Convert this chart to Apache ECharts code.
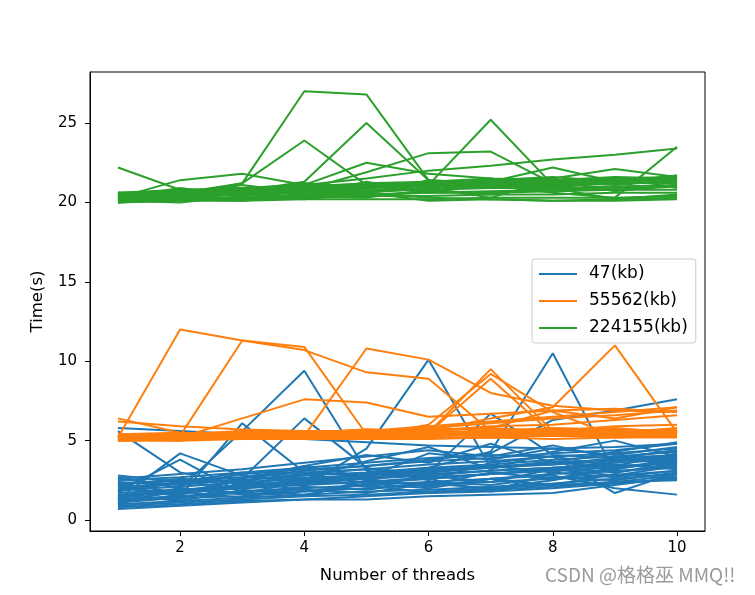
<!DOCTYPE html>
<html>
<head>
<meta charset="utf-8">
<script src="https://cdn.jsdelivr.net/npm/echarts@6/dist/echarts.min.js"></script>
<style>html,body{margin:0;padding:0;background:#fff}#c{width:755px;height:595px}</style>
</head>
<body>
<div id="c"></div>
<script>
const threads = [1,2,3,4,5,6,7,8,9,10];
const seriesNames = ['47(kb)', '55562(kb)', '224155(kb)'];
const xTicks = [2,4,6,8,10];
const yTicks = [0,5,10,15,20,25];

const blueRuns = [
[0.8,1.0,1.2,1.3,1.5,1.7,1.8,2.0,2.3,2.6],
[0.7,0.9,1.1,1.3,1.3,1.5,1.6,1.7,2.2,2.7],
[1.0,1.2,1.4,1.6,1.8,1.9,2.1,2.3,2.6,2.9],
[1.1,1.4,1.5,1.8,2.0,2.2,2.4,2.6,2.8,3.1],
[1.3,1.5,1.8,2.0,2.2,2.4,2.6,2.9,3.1,3.3],
[1.5,1.7,2.0,2.2,2.4,2.6,2.9,3.1,3.3,3.6],
[1.7,1.9,2.2,2.4,2.6,2.9,3.1,3.3,3.6,3.8],
[1.9,2.1,2.4,2.6,2.8,3.1,3.3,3.6,3.8,4.0],
[2.1,2.3,2.5,2.8,3.0,3.3,3.5,3.8,4.0,4.3],
[2.3,2.5,2.7,3.0,3.2,3.5,3.7,4.0,4.2,4.5],
[2.6,2.2,2.9,3.2,3.4,3.7,3.9,4.2,4.4,4.8],
[2.8,2.4,2.0,2.6,2.9,3.0,3.4,3.5,3.9,4.1],
[1.2,1.8,1.4,2.1,1.9,2.4,2.2,2.7,2.5,3.0],
[1.6,1.2,1.9,1.6,2.3,2.0,2.6,2.2,2.9,2.6],
[2.0,1.6,2.3,2.7,2.1,2.8,2.4,3.2,2.8,3.4],
[1.4,2.0,1.7,1.5,2.5,2.2,3.0,2.6,3.3,3.7],
[5.8,5.6,5.4,5.1,4.9,4.7,4.6,4.5,4.6,4.8],
[5.6,3.0,2.2,2.5,2.7,3.0,3.3,3.5,3.7,3.9],
[1.3,4.2,2.8,2.3,2.4,2.7,2.9,3.2,3.4,3.6],
[1.8,3.8,1.7,2.4,2.6,2.8,3.1,3.3,3.5,3.2],
[2.2,1.5,6.1,3.0,2.8,3.2,3.4,3.0,3.8,4.0],
[1.0,2.0,5.6,9.4,3.1,2.6,2.9,3.3,3.0,3.5],
[2.4,2.2,2.6,6.4,3.3,2.5,3.6,4.0,3.4,4.2],
[1.2,1.5,1.7,2.1,4.5,10.1,3.3,3.7,3.2,3.9],
[1.5,1.9,2.1,2.4,2.9,3.3,4.3,10.5,3.0,3.6],
[1.9,2.3,2.5,2.9,3.2,3.0,6.7,4.1,3.9,4.4],
[2.0,2.4,2.7,3.1,3.4,3.8,4.2,6.3,6.9,7.6],
[1.6,1.8,2.0,2.3,2.6,2.1,2.6,2.8,2.0,1.6],
[2.5,2.7,3.0,3.3,3.6,3.9,4.1,4.0,1.7,3.0],
[1.1,1.6,2.6,1.8,2.2,1.7,1.9,2.1,2.4,2.8],
[2.7,2.0,1.6,1.9,1.7,2.3,2.0,2.5,3.2,3.8],
[1.4,1.3,2.2,2.9,2.3,2.6,1.8,3.0,2.7,3.1],
[2.2,2.6,2.4,3.4,2.7,4.2,3.8,4.5,4.1,4.6],
[0.9,1.1,1.3,1.5,1.6,1.8,2.0,2.2,2.4,2.5],
[2.6,2.9,3.2,3.6,4.0,4.4,4.0,4.7,3.9,4.4],
[1.8,2.4,3.0,2.6,3.7,4.6,3.2,4.3,5.0,4.0],
[2.3,1.7,2.6,3.4,4.1,3.6,4.8,3.6,4.3,4.9]
];

const orangeRuns = [
[5.0,5.0,5.1,5.1,5.1,5.1,5.2,5.1,5.2,5.2],
[5.1,5.1,5.1,5.2,5.2,5.2,5.2,5.3,5.2,5.3],
[5.2,5.1,5.2,5.2,5.3,5.3,5.3,5.3,5.3,5.4],
[5.1,5.2,5.2,5.3,5.2,5.4,5.3,5.4,5.4,5.4],
[5.3,5.2,5.3,5.3,5.4,5.3,5.4,5.5,5.4,5.5],
[5.2,5.3,5.3,5.4,5.4,5.5,5.5,5.4,5.5,5.6],
[5.4,5.3,5.4,5.4,5.5,5.5,5.6,5.6,5.6,5.6],
[5.0,5.2,5.3,5.5,5.3,5.6,5.5,5.7,5.6,5.7],
[5.3,5.4,5.2,5.3,5.6,5.4,5.7,5.5,5.8,5.5],
[5.1,5.3,5.5,5.2,5.4,5.7,5.4,5.6,5.5,5.8],
[5.2,5.0,5.4,5.6,5.5,5.3,5.6,5.8,5.7,5.4],
[5.4,5.5,5.3,5.5,5.7,5.6,5.8,5.6,5.9,6.0],
[5.0,5.1,5.3,5.4,5.6,5.8,6.1,6.4,6.6,6.9],
[5.2,5.3,5.4,5.5,5.6,5.9,6.2,6.5,6.8,7.1],
[6.2,5.9,5.7,5.6,5.6,5.5,5.4,5.4,5.3,5.3],
[6.4,5.5,5.3,5.2,5.3,5.4,5.3,5.5,5.4,5.5],
[5.2,12.0,11.3,10.9,5.4,5.3,5.4,5.3,5.5,5.4],
[5.1,5.3,11.3,10.7,9.3,8.9,5.6,5.5,5.4,5.4],
[5.3,5.2,6.4,7.6,7.4,6.5,6.7,6.9,7.0,6.8],
[5.2,5.3,5.3,5.3,10.8,10.1,8.0,7.2,6.9,6.8],
[5.3,5.4,5.2,5.4,5.5,5.5,9.5,5.6,5.5,5.6],
[5.1,5.2,5.3,5.2,5.3,6.0,9.2,6.8,5.3,5.5],
[5.2,5.3,5.4,5.3,5.4,5.5,8.9,5.4,5.5,5.3],
[5.3,5.2,5.3,5.4,5.5,5.6,6.4,7.1,11.0,5.5],
[5.4,5.3,5.5,5.4,5.6,5.7,5.8,6.9,6.4,7.1],
[5.0,5.4,5.6,5.5,5.7,5.6,5.9,6.0,6.3,6.6]
];

const greenRuns = [
[20.0,20.1,20.1,20.2,20.2,20.2,20.3,20.3,20.3,20.4],
[20.1,20.2,20.2,20.3,20.4,20.4,20.5,20.5,20.6,20.6],
[20.2,20.3,20.3,20.4,20.5,20.6,20.6,20.7,20.8,20.8],
[20.2,20.4,20.5,20.6,20.7,20.8,20.9,20.9,21.0,21.1],
[20.3,20.5,20.6,20.7,20.8,20.9,21.0,21.1,21.2,21.3],
[20.4,20.6,20.7,20.8,20.9,21.0,21.1,21.2,21.3,21.4],
[20.5,20.6,20.8,20.9,21.0,21.1,21.2,21.3,21.4,21.5],
[20.6,20.8,20.9,21.0,21.1,21.2,21.3,21.4,21.5,21.6],
[20.0,20.3,20.2,20.5,20.4,20.7,20.6,20.9,20.8,21.0],
[20.1,20.0,20.4,20.2,20.6,20.3,20.2,20.1,20.2,20.5],
[20.3,20.2,20.1,20.4,20.3,20.8,20.5,21.0,21.2,21.7],
[20.5,20.3,20.6,20.3,21.0,21.2,20.9,21.1,21.5,21.3],
[20.4,20.7,20.5,21.2,20.9,21.3,21.5,21.0,21.2,21.6],
[20.2,20.5,21.1,20.6,21.2,21.0,21.4,21.6,21.3,21.7],
[20.6,20.4,20.3,20.7,20.6,21.4,21.1,20.9,20.2,20.3],
[20.6,20.2,20.9,20.4,21.3,20.6,21.5,20.8,21.6,20.9],
[20.3,20.9,20.4,21.2,20.6,20.9,20.3,21.4,20.7,21.1],
[22.2,20.8,20.4,20.3,20.5,20.6,20.7,20.8,20.9,21.0],
[20.3,21.4,21.8,21.1,21.0,21.2,21.3,21.1,21.4,21.5],
[20.2,20.6,21.2,27.0,26.8,21.4,21.2,21.0,21.3,21.2],
[20.5,20.4,21.2,23.9,21.1,21.3,21.0,21.2,21.4,21.3],
[20.3,20.5,20.7,21.3,25.0,21.4,21.2,21.3,21.1,21.4],
[20.4,20.6,20.9,21.1,22.5,21.8,21.5,21.4,21.6,21.5],
[20.1,20.4,20.6,20.8,21.9,23.1,23.2,21.2,21.4,21.3],
[20.3,20.6,20.8,20.9,21.0,21.1,25.2,21.1,21.3,21.2],
[20.6,20.7,20.9,21.0,21.2,21.3,21.3,22.2,21.3,21.5],
[20.4,20.5,20.8,20.9,21.1,21.2,21.4,21.5,22.1,21.6],
[20.2,20.4,20.6,20.8,21.0,21.2,21.1,20.6,20.3,23.5],
[20.5,20.7,20.9,21.1,21.5,22.0,22.3,22.7,23.0,23.4],
[20.0,20.2,20.3,20.5,20.6,20.1,20.2,20.1,20.1,20.2]
];

const colors = ['#1f77b4', '#ff7f0e', '#2ca02c'];
const groups = [blueRuns, orangeRuns, greenRuns];
const FONT = 'DejaVu Sans';

const series = [];
groups.forEach((runs, gi) => {
  runs.forEach(run => {
    series.push({
      type: 'line',
      name: seriesNames[gi],
      data: run.map((v, i) => [threads[i], v]),
      symbol: 'none',
      silent: true,
      lineStyle: { color: colors[gi], width: 2 },
      itemStyle: { color: colors[gi] },
      animation: false
    });
  });
});

const chart = echarts.init(document.getElementById('c'), null, { renderer: 'canvas' });
chart.setOption({
  animation: false,
  backgroundColor: '#fff',
  textStyle: { fontFamily: FONT },
  grid: { left: 90, right: 50, top: 72, bottom: 64, show: true, borderColor: '#000', borderWidth: 1, backgroundColor: 'transparent' },
  xAxis: {
    type: 'value', min: 0.55, max: 10.45,
    name: 'Number of threads', nameLocation: 'middle', nameGap: 36,
    nameTextStyle: { color: '#000', fontSize: 16.5, fontFamily: FONT },
    axisLine: { show: true, onZero: false, lineStyle: { color: '#000', width: 1 } },
    axisTick: { show: true, inside: false, length: 5, customValues: xTicks, lineStyle: { color: '#000' } },
    axisLabel: { customValues: xTicks, color: '#000', fontSize: 15, fontFamily: FONT, margin: 10 },
    splitLine: { show: false }
  },
  yAxis: {
    type: 'value', min: -0.69, max: 28.21,
    name: 'Time(s)', nameLocation: 'middle', nameGap: 44, nameRotate: 90,
    nameTextStyle: { color: '#000', fontSize: 16.5, fontFamily: FONT },
    axisLine: { show: true, onZero: false, lineStyle: { color: '#000', width: 1 } },
    axisTick: { show: true, inside: false, length: 5, customValues: yTicks, lineStyle: { color: '#000' } },
    axisLabel: { customValues: yTicks, color: '#000', fontSize: 15, fontFamily: FONT, margin: 13 },
    splitLine: { show: false }
  },
  legend: {
    data: seriesNames,
    orient: 'vertical',
    left: 532, top: 259,
    padding: [5, 8, 5, 7],
    itemWidth: 38, itemHeight: 2, itemGap: 7,
    icon: 'rect',
    borderColor: '#cccccc', borderWidth: 1, borderRadius: 3,
    backgroundColor: 'rgba(255,255,255,0.8)',
    textStyle: { color: '#000', fontSize: 17, fontFamily: FONT, lineHeight: 20, padding: [0, 0, 0, 7] },
    selectedMode: false
  },
  graphic: [{
    type: 'text', left: 545, top: 565, silent: true,
    style: { text: 'CSDN @格格巫 MMQ!!', fill: '#9a9a9a', font: '19px "Noto Sans CJK SC", "DejaVu Sans"' }
  }],
  series: series
});
</script>
</body>
</html>
